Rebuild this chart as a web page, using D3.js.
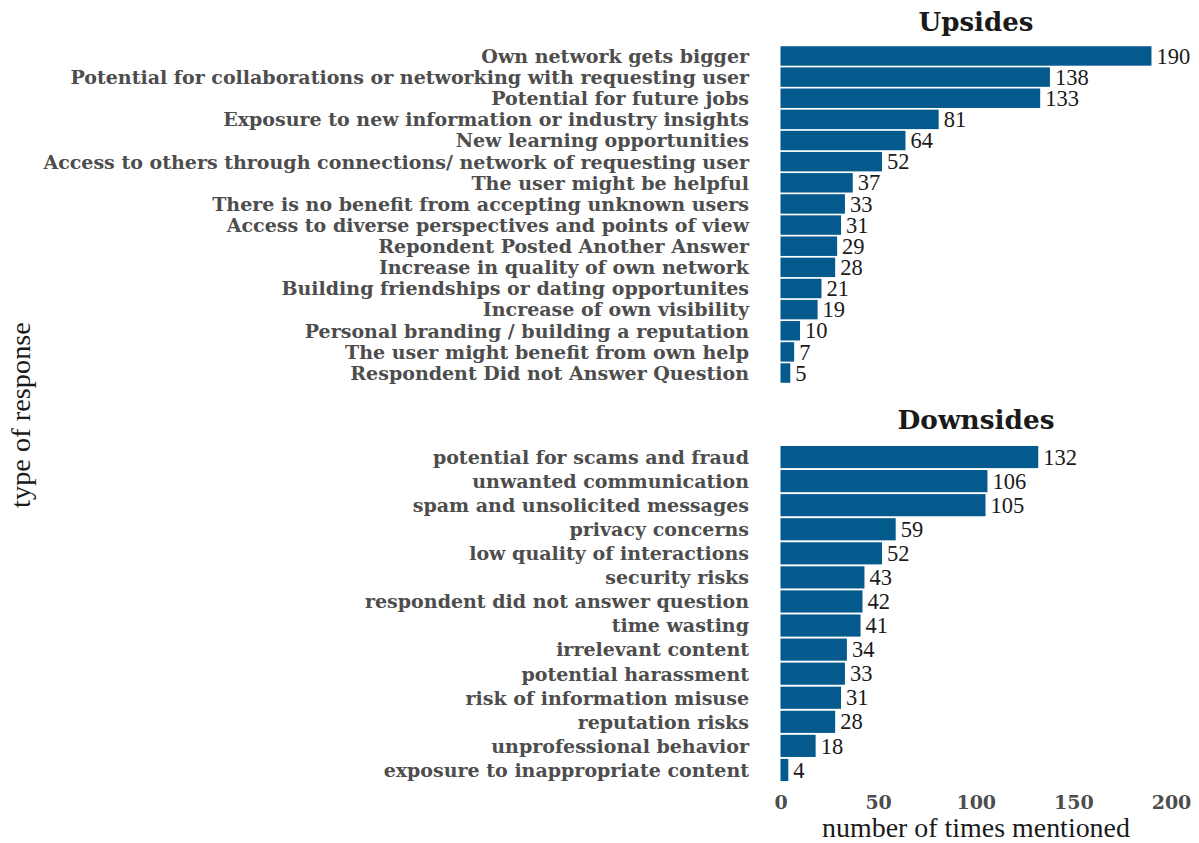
<!DOCTYPE html>
<html><head><meta charset="utf-8">
<script src="https://cdn.jsdelivr.net/npm/d3@7"></script>
<style>body{margin:0;background:#fff}svg{display:block}</style>
</head><body>
<svg id="c" width="1199" height="843"></svg>
<script>
const upCategories = ["Own network gets bigger","Potential for collaborations or networking with requesting user","Potential for future jobs","Exposure to new information or industry insights","New learning opportunities","Access to others through connections/ network of requesting user","The user might be helpful","There is no benefit from accepting unknown users","Access to diverse perspectives and points of view","Repondent Posted Another Answer","Increase in quality of own network","Building friendships or dating opportunites","Increase of own visibility","Personal branding / building a reputation","The user might benefit from own help","Respondent Did not Answer Question"];
const upValues = [190,138,133,81,64,52,37,33,31,29,28,21,19,10,7,5];
const downCategories = ["potential for scams and fraud","unwanted communication","spam and unsolicited messages","privacy concerns","low quality of interactions","security risks","respondent did not answer question","time wasting","irrelevant content","potential harassment","risk of information misuse","reputation risks","unprofessional behavior","exposure to inappropriate content"];
const downValues = [132,106,105,59,52,43,42,41,34,33,31,28,18,4];
const xTicks = [0,50,100,150,200];
const panelTitles = ["Upsides","Downsides"];

const svg = d3.select("#c");
const LABFONT = "'DejaVu Serif', 'Liberation Serif', serif";
const FONT = "'Liberation Serif', 'DejaVu Serif', serif";
const barColor = "#045a8d";
const x = d3.scaleLinear().domain([0,200]).range([780.5,1171]);

function fit(sel, target) {
  const n = sel.node();
  const fs = parseFloat(sel.attr("font-size"));
  const w = n.getComputedTextLength();
  if (w > 0) sel.attr("font-size", fs * target / w);
}

const panels = [
  {title: panelTitles[0], cats: upCategories, vals: upValues, range:[45.4,383.6], titleY:31, tw:115},
  {title: panelTitles[1], cats: downCategories, vals: downValues, range:[445,782], titleY:429, tw:157}
];

const probe = svg.append("text").attr("font-family",LABFONT).attr("font-weight","bold")
  .attr("font-size",20).text(upCategories[5]);
fit(probe, 706);
const labelSize = parseFloat(probe.attr("font-size"));
probe.remove();

panels.forEach(p => {
  const y = d3.scaleBand().domain(p.cats).range(p.range).paddingInner(0.08).paddingOuter(0.04);
  const g = svg.append("g");
  const data = p.cats.map((c,i)=>({c, v:p.vals[i]}));
  g.selectAll("rect").data(data).join("rect")
    .attr("x", x(0)).attr("y", d=>y(d.c))
    .attr("width", d=>x(d.v)-x(0)).attr("height", y.bandwidth())
    .attr("fill", barColor);
  g.selectAll("text.val").data(data).join("text").attr("class","val")
    .attr("x", d=>x(d.v)+5).attr("y", d=>y(d.c)+y.bandwidth()/2)
    .attr("dy","0.34em")
    .attr("font-family",FONT).attr("font-size",22.5).attr("fill","#1a1a1a")
    .text(d=>d.v);
  const ax = d3.axisLeft(y).tickSize(0).tickPadding(0);
  const axg = svg.append("g").attr("transform","translate(749,0)").call(ax);
  axg.select(".domain").remove();
  axg.selectAll("text").attr("font-family",LABFONT).attr("font-size",labelSize)
    .attr("font-weight","bold").attr("fill","#4d4d4d").attr("dy","0.36em");
  const t = svg.append("text").attr("x", 976).attr("y", p.titleY)
    .attr("text-anchor","middle").attr("font-family",LABFONT).attr("font-size",24)
    .attr("font-weight","bold").attr("fill","#1a1a1a").text(p.title);
  fit(t, p.tw);
});

const xa = d3.axisBottom(x).tickValues(xTicks).tickSize(0).tickPadding(0);
const xg = svg.append("g").attr("transform","translate(0,795)").call(xa);
xg.select(".domain").remove();
xg.selectAll("text").attr("font-family",LABFONT).attr("font-size",labelSize)
  .attr("font-weight","bold").attr("fill","#4d4d4d").attr("dy","0.71em");

const xt = svg.append("text").attr("x", 976).attr("y", 837).attr("text-anchor","middle")
  .attr("font-family",FONT).attr("font-size",23).attr("fill","#1a1a1a")
  .text("number of times mentioned");
fit(xt, 308);
const yt = svg.append("text").attr("transform","translate(30,415) rotate(-90)").attr("text-anchor","middle")
  .attr("font-family",FONT).attr("font-size",23).attr("fill","#1a1a1a")
  .text("type of response");
fit(yt, 186);
</script>
</body></html>
